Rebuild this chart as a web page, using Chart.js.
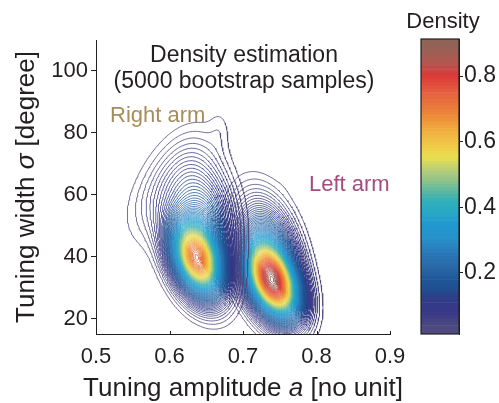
<!DOCTYPE html>
<html lang="en">
<head>
<meta charset="UTF-8">
<title>Density estimation</title>
<script src="https://cdn.jsdelivr.net/npm/chart.js@4.4.1/dist/chart.umd.min.js"></script>
<style>
  html, body { margin: 0; padding: 0; background: #fff; }
  #wrap { position: relative; width: 499px; height: 403px; overflow: hidden; }
  #mainBox { position: absolute; left: 0; top: 0; width: 410px; height: 403px; }
  #barBox { position: absolute; left: 400px; top: 0; width: 99px; height: 403px; }
</style>
</head>
<body>
<div id="wrap">
  <div id="mainBox"><canvas id="densityChart"></canvas></div>
  <div id="barBox"><canvas id="colorbarChart"></canvas></div>
</div>
<script>
// axis ranges and ticks
const xRange = [0.5, 0.9];
const yRange = [15, 110];
const xTicks = [0.5, 0.6, 0.7, 0.8, 0.9];
const yTicks = [20, 40, 60, 80, 100];
const colorbarRange = [0.014, 0.913];
const colorbarTicks = [0.2, 0.4, 0.6, 0.8];

// each arm is contoured on its own: 0 = right arm, 1 = left arm
const arms = ['Right arm', 'Left arm'];

// gaussian pieces of the two densities (data units)
const blobArm  = [0,      0,      0,      0,      1,      1,      1];
const blobX    = [0.6369, 0.6451, 0.6029, 0.6683, 0.7405, 0.7337, 0.7663];
const blobY    = [38.9,   51.1,   63.1,   81.4,   31.5,   42.1,   70.0];
const blobSdX  = [0.0231, 0.0275, 0.0359, 0.0095, 0.0238, 0.0266, 0.0110];
const blobSdY  = [7.98,   11.6,   10.94,  4.5,    7.87,   10.7,   4.6];
const blobRho  = [-0.37,  -0.11,  0.525,  0,      -0.40,  -0.32,  0];
const blobPeak = [0.64,   0.20,   0.06,   0.012,  0.74,   0.25,   0.012];

// contour levels
const levelStart = 0.015;
const levelStep = 0.01;
const levelCount = 91;

// colormap stops (density -> colour), sampled from the colour bar
const cmapStops  = [0.0, 0.04, 0.08, 0.12, 0.15, 0.18, 0.22, 0.26, 0.30, 0.35, 0.38, 0.42, 0.45, 0.47, 0.50, 0.52, 0.55, 0.59, 0.63, 0.68, 0.75, 0.80, 0.84, 0.90];
const cmapColors = ['#564c80', '#4a4880', '#383888', '#303c88', '#204e90', '#1e5898', '#2a6aa8', '#2a78b8', '#2890c8', '#2098d0', '#28a8c8', '#30b0b8', '#60b8a0', '#80c090', '#a8c880', '#c0d070', '#e8e050', '#f0c848', '#f0b040', '#ec8838', '#e46040', '#dc3838', '#b05850', '#8e6458'];

const ink = '#231f20';
Chart.defaults.font.family = '"Liberation Sans", Arial, Helvetica, sans-serif';
Chart.defaults.color = ink;

function hexRgb(h) {
    return [parseInt(h.slice(1, 3), 16), parseInt(h.slice(3, 5), 16), parseInt(h.slice(5, 7), 16)];
}

function colorAt(v) {
    if (v <= cmapStops[0]) return cmapColors[0];
    for (let k = 1; k < cmapStops.length; k++) {
        if (v <= cmapStops[k]) {
            const t = (v - cmapStops[k - 1]) / (cmapStops[k] - cmapStops[k - 1]);
            const a = hexRgb(cmapColors[k - 1]), b = hexRgb(cmapColors[k]);
            const c = a.map((x, n) => Math.round(x + (b[n] - x) * t));
            return 'rgb(' + c.join(',') + ')';
        }
    }
    return cmapColors[cmapColors.length - 1];
}

function density(arm, x, y) {
    let s = 0;
    for (let k = 0; k < blobX.length; k++) {
        if (blobArm[k] !== arm) continue;
        const dx = (x - blobX[k]) / blobSdX[k];
        const dy = (y - blobY[k]) / blobSdY[k];
        const r = blobRho[k];
        const q = (dx * dx - 2 * r * dx * dy + dy * dy) / (1 - r * r);
        s += blobPeak[k] * Math.exp(-0.5 * q);
    }
    return s;
}

// sample each density on a grid
const NX = 180, NY = 180, W = NX + 1;
const gx = [], gy = [];
for (let i = 0; i <= NX; i++) gx.push(xRange[0] + (xRange[1] - xRange[0]) * i / NX);
for (let j = 0; j <= NY; j++) gy.push(yRange[0] + (yRange[1] - yRange[0]) * j / NY);
const fields = arms.map((_, arm) => {
    const f = new Float64Array(W * (NY + 1));
    for (let j = 0; j <= NY; j++) {
        for (let i = 0; i <= NX; i++) f[j * W + i] = density(arm, gx[i], gy[j]);
    }
    return f;
});

// marching squares, joined into polylines (NaN point = pen up)
function contour(field, level) {
    const val = (i, j) => field[j * W + i];
    const pos = new Map();
    const adj = new Map();

    function edgePoint(id) {
        if (pos.has(id)) return;
        const cell = id >> 1;
        const i = cell % W, j = Math.floor(cell / W);
        let x, y;
        if ((id & 1) === 0) {
            const a = val(i, j), b = val(i + 1, j);
            const t = (level - a) / (b - a);
            x = gx[i] + t * (gx[i + 1] - gx[i]);
            y = gy[j];
        } else {
            const a = val(i, j), b = val(i, j + 1);
            const t = (level - a) / (b - a);
            x = gx[i];
            y = gy[j] + t * (gy[j + 1] - gy[j]);
        }
        pos.set(id, { x: x, y: y });
    }

    function link(e1, e2) {
        edgePoint(e1); edgePoint(e2);
        if (!adj.has(e1)) adj.set(e1, []);
        if (!adj.has(e2)) adj.set(e2, []);
        adj.get(e1).push(e2);
        adj.get(e2).push(e1);
    }

    for (let j = 0; j < NY; j++) {
        for (let i = 0; i < NX; i++) {
            const a = val(i, j), b = val(i + 1, j), c = val(i + 1, j + 1), d = val(i, j + 1);
            const code = (a >= level ? 1 : 0) | (b >= level ? 2 : 0) | (c >= level ? 4 : 0) | (d >= level ? 8 : 0);
            if (code === 0 || code === 15) continue;
            const bottom = (j * W + i) * 2;
            const top = ((j + 1) * W + i) * 2;
            const left = (j * W + i) * 2 + 1;
            const right = (j * W + i + 1) * 2 + 1;
            switch (code) {
                case 1: case 14: link(bottom, left); break;
                case 2: case 13: link(bottom, right); break;
                case 3: case 12: link(left, right); break;
                case 4: case 11: link(right, top); break;
                case 6: case 9: link(bottom, top); break;
                case 7: case 8: link(left, top); break;
                case 5: case 10: {
                    const centerUp = (a + b + c + d) / 4 >= level;
                    if ((code === 5) === centerUp) { link(bottom, right); link(top, left); }
                    else { link(bottom, left); link(right, top); }
                }
            }
        }
    }

    const used = new Set();
    const out = [];
    const walk = (start) => {
        const line = [start];
        used.add(start);
        let cur = start;
        for (;;) {
            const next = adj.get(cur).find(n => !used.has(n));
            if (next === undefined) break;
            used.add(next);
            line.push(next);
            cur = next;
        }
        if (line.length > 2 && adj.get(cur).includes(start)) line.push(start);
        if (out.length) out.push({ x: NaN, y: NaN });
        line.forEach(id => out.push(pos.get(id)));
    };
    adj.forEach((nb, id) => { if (nb.length === 1 && !used.has(id)) walk(id); });
    adj.forEach((nb, id) => { if (!used.has(id)) walk(id); });
    return out;
}

const levels = [];
for (let k = 0; k < levelCount; k++) levels.push(+(levelStart + k * levelStep).toFixed(3));

const contourSets = [];
fields.forEach(field => {
    levels.forEach(L => {
        const pts = contour(field, L);
        if (pts.length) {
            contourSets.push({
                data: pts,
                borderColor: colorAt(L),
                borderWidth: 0.8,
                pointRadius: 0,
                showLine: true,
                spanGaps: false,
                fill: false,
                tension: 0
            });
        }
    });
});

// text inside / around the density plot
function drawParts(ctx, parts, size, x, y) {
    let total = 0;
    parts.forEach(p => {
        ctx.font = (p.italic ? 'italic ' : '') + size + 'px "Liberation Sans", Arial, sans-serif';
        p.w = ctx.measureText(p.text).width;
        total += p.w;
    });
    let cx = x - total / 2;
    parts.forEach(p => {
        ctx.font = (p.italic ? 'italic ' : '') + size + 'px "Liberation Sans", Arial, sans-serif';
        ctx.fillText(p.text, cx, y);
        cx += p.w;
    });
}

const textPlugin = {
    id: 'textPlugin',
    afterDraw(chart) {
        const ctx = chart.ctx;
        const area = chart.chartArea;
        const xs = chart.scales.x;
        ctx.save();
        // inward tick marks on the x axis
        ctx.strokeStyle = ink;
        ctx.lineWidth = 1;
        xTicks.forEach(v => {
            const px = Math.round(xs.getPixelForValue(v)) + 0.5;
            ctx.beginPath();
            ctx.moveTo(px, area.bottom);
            ctx.lineTo(px, area.bottom - 3);
            ctx.stroke();
        });

        ctx.textBaseline = 'alphabetic';
        ctx.fillStyle = ink;
        ctx.textAlign = 'center';
        ctx.font = '23px "Liberation Sans", Arial, sans-serif';
        ctx.fillText('Density estimation', 244, 62);
        ctx.fillText('(5000 bootstrap samples)', 244, 88);

        ctx.textAlign = 'left';
        ctx.font = '22px "Liberation Sans", Arial, sans-serif';
        ctx.fillStyle = '#a88c5a';
        ctx.fillText(arms[0], 110, 122);
        ctx.fillStyle = '#a24d80';
        ctx.fillText(arms[1], 309, 191);

        ctx.fillStyle = ink;
        drawParts(ctx, [{ text: 'Tuning amplitude ' }, { text: 'a', italic: true }, { text: ' [no unit]' }],
            26, (area.left + area.right) / 2, 396);
        ctx.translate(34, (area.top + area.bottom) / 2);
        ctx.rotate(-Math.PI / 2);
        drawParts(ctx, [{ text: 'Tuning width ' }, { text: '\u03c3', italic: true }, { text: ' [degree]' }],
            26, 0, 0);
        ctx.restore();
    }
};

new Chart(document.getElementById('densityChart'), {
    type: 'scatter',
    data: { datasets: contourSets },
    options: {
        responsive: true,
        maintainAspectRatio: false,
        animation: false,
        parsing: false,
        events: [],
        layout: { padding: { top: 40, right: 20, left: 0, bottom: 0 } },
        plugins: { legend: { display: false }, tooltip: { enabled: false } },
        scales: {
            x: {
                type: 'linear', min: xRange[0], max: xRange[1],
                afterBuildTicks: s => { s.ticks = xTicks.map(v => ({ value: v })); },
                afterFit: s => { s.height = 69; },
                grid: { drawOnChartArea: false, tickLength: 7, tickColor: 'rgba(0,0,0,0)' },
                border: { color: ink, width: 1 },
                ticks: { font: { size: 22 }, padding: 3, color: ink, maxRotation: 0, callback: v => v.toFixed(1) }
            },
            y: {
                type: 'linear', min: yRange[0], max: yRange[1],
                afterBuildTicks: s => { s.ticks = yTicks.map(v => ({ value: v })); },
                afterFit: s => { s.width = 96; },
                grid: { drawOnChartArea: false, tickLength: 5, color: ink },
                border: { color: ink, width: 1 },
                ticks: { font: { size: 22 }, padding: 3, color: ink, callback: v => String(v) }
            }
        }
    },
    plugins: [textPlugin]
});

// colour bar
const framePlugin = {
    id: 'framePlugin',
    afterDraw(chart) {
        const ctx = chart.ctx;
        const a = chart.chartArea;
        ctx.save();
        ctx.strokeStyle = ink;
        ctx.lineWidth = 1.2;
        ctx.strokeRect(a.left, a.top, a.right - a.left, a.bottom - a.top);
        ctx.fillStyle = ink;
        ctx.textAlign = 'center';
        ctx.textBaseline = 'alphabetic';
        ctx.font = '22px "Liberation Sans", Arial, sans-serif';
        ctx.fillText('Density', 43, 28);
        ctx.restore();
    }
};

new Chart(document.getElementById('colorbarChart'), {
    type: 'bar',
    data: {
        labels: [''],
        datasets: levels.map(L => ({
            data: [[L - levelStep / 2, L + levelStep / 2]],
            backgroundColor: colorAt(L),
            borderWidth: 0,
            grouped: false,
            barPercentage: 1,
            categoryPercentage: 1
        }))
    },
    options: {
        responsive: true,
        maintainAspectRatio: false,
        animation: false,
        events: [],
        layout: { padding: { left: 21, top: 39, bottom: 69, right: 0 } },
        plugins: { legend: { display: false }, tooltip: { enabled: false } },
        scales: {
            x: { display: false },
            y: {
                position: 'right',
                min: colorbarRange[0], max: colorbarRange[1],
                afterBuildTicks: s => { s.ticks = colorbarTicks.map(v => ({ value: v })); },
                afterFit: s => { s.width = 40; },
                grid: { drawOnChartArea: false, tickLength: 4, color: ink },
                border: { color: ink, width: 1 },
                ticks: { font: { size: 23 }, padding: 1, color: ink, callback: v => v.toFixed(1) }
            }
        }
    },
    plugins: [framePlugin]
});
</script>
</body>
</html>
